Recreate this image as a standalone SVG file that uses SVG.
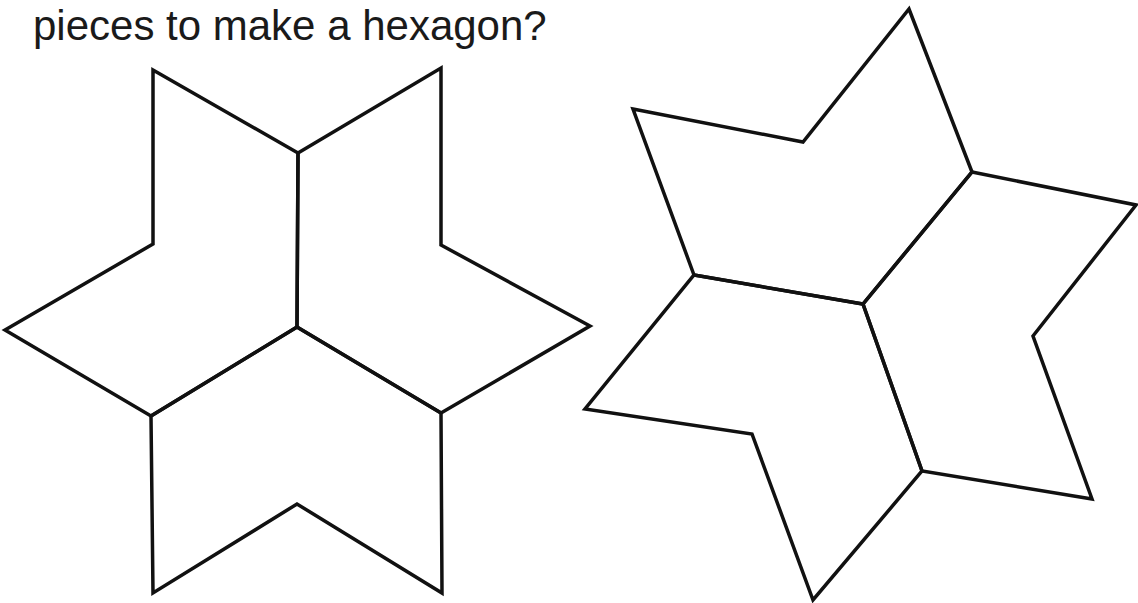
<svg xmlns="http://www.w3.org/2000/svg" width="1138" height="603" viewBox="0 0 1138 603">
  <style>
    .piece { fill: none; stroke: #111; stroke-width: 3.5; stroke-linejoin: miter; stroke-miterlimit: 10; }
    .caption { font-family: "Liberation Sans", Arial, sans-serif; font-size: 42px; fill: #1a1a1a; }
  </style>
  <rect width="1138" height="603" fill="#ffffff"/>
  <text class="caption" x="33" y="40">pieces to make a hexagon?</text>
  <g id="star-left">
    <polygon id="left-piece-a" class="piece" points="153,70 298,153 297,327 151,416 5,330 153,244"/>
    <polygon id="left-piece-b" class="piece" points="298,153 441,68 441,245 590,326 441,413 297,327"/>
    <polygon id="left-piece-c" class="piece" points="151,416 297,327 441,413 442,593 297,504 153,593"/>
  </g>
  <g id="star-right">
    <polygon id="right-piece-a" class="piece" points="633,109 803,142 909,9 972,172 863,304 694,275"/>
    <polygon id="right-piece-b" class="piece" points="972,172 1136,205 1033,336 1092,499 922,471 863,304"/>
    <polygon id="right-piece-c" class="piece" points="694,275 863,304 922,471 813,600 752,434 585,409"/>
  </g>
</svg>
